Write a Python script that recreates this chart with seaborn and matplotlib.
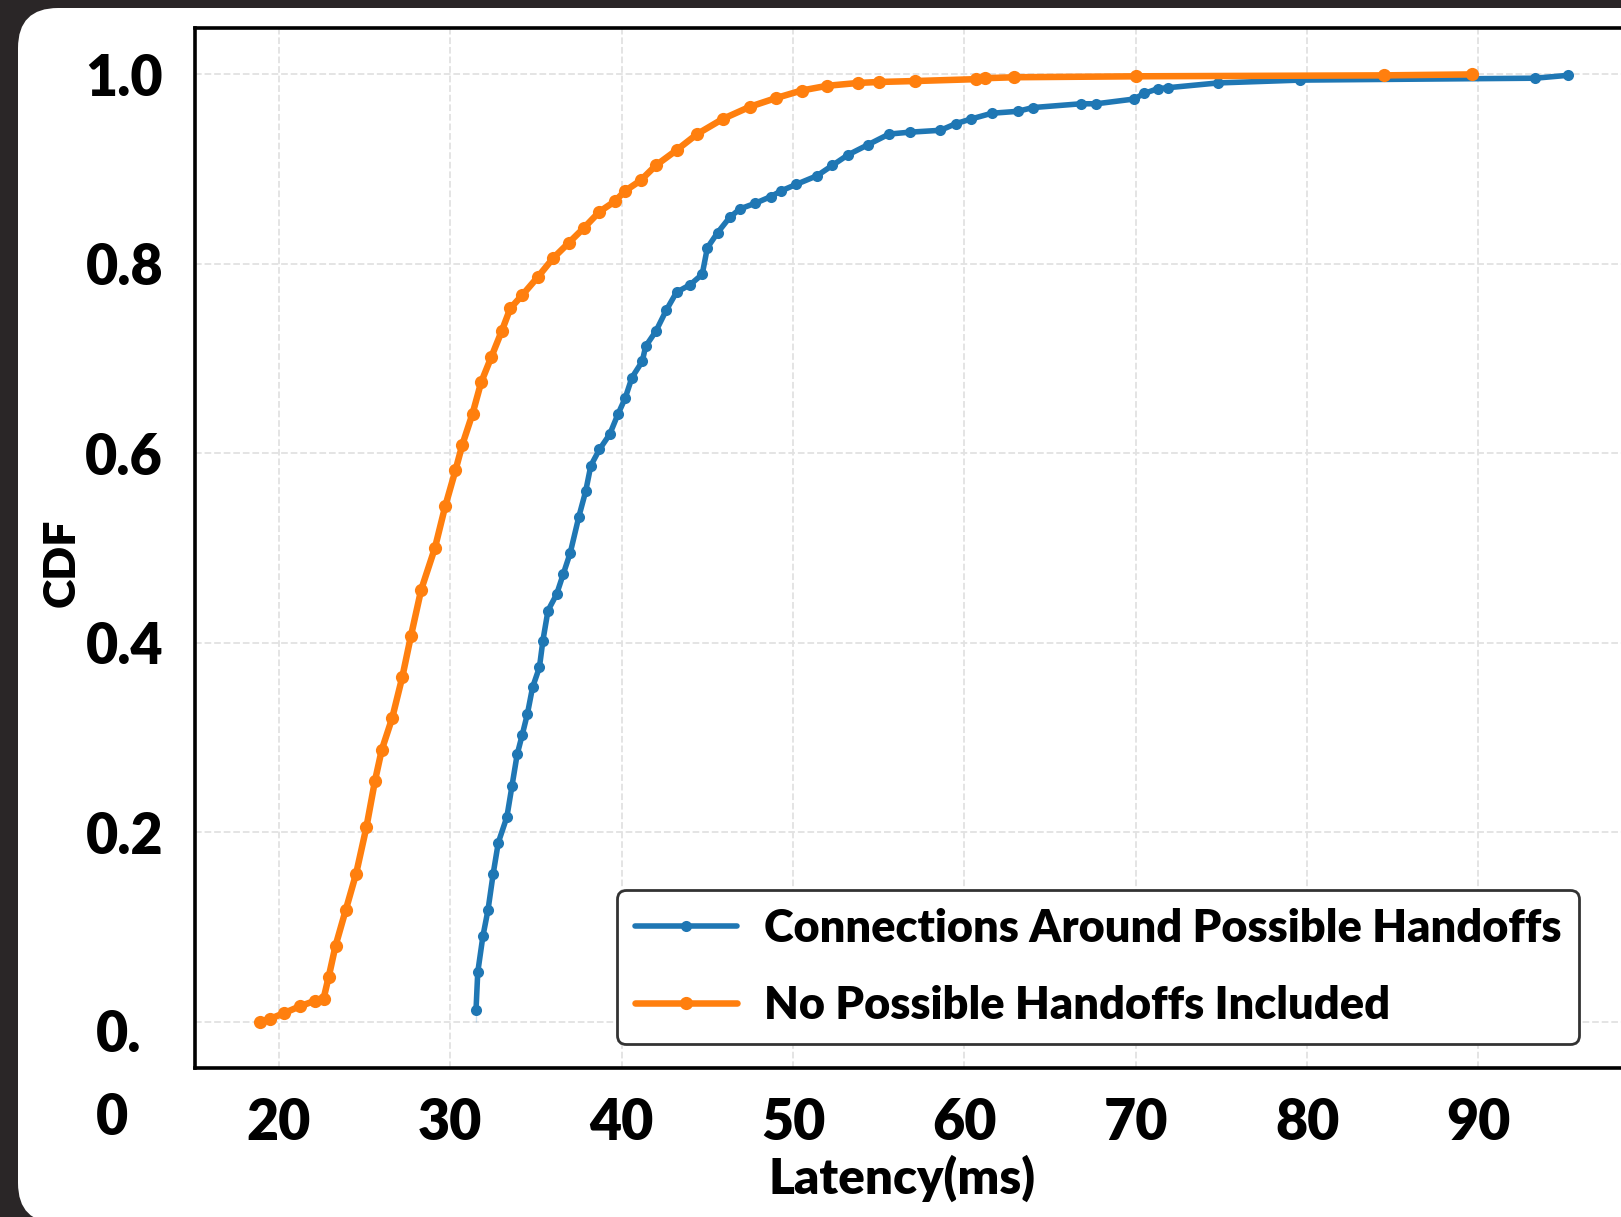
import numpy as np
import pandas as pd
import matplotlib
matplotlib.use("Agg")
import matplotlib.pyplot as plt
import matplotlib.patches as mpatches
from matplotlib.transforms import ScaledTranslation
import seaborn as sns

# latency (ms) and CDF values
handoff_ms = [31.5, 31.5, 31.6, 31.9, 32.2, 32.5, 32.8, 33.3, 33.6, 33.9, 34.2, 34.5,
              34.8, 35.2, 35.4, 35.7, 36.2, 36.6, 37.0, 37.5, 37.9, 38.2, 38.7, 39.3,
              39.8, 40.2, 40.6, 41.2, 41.4, 42.0, 42.6, 43.2, 44.0, 44.7, 45.0, 45.6,
              46.3, 46.9, 47.8, 48.7, 49.3, 50.2, 51.4, 52.3, 53.2, 54.4, 55.6, 56.8,
              58.6, 59.5, 60.4, 61.6, 63.1, 64.0, 66.8, 67.7, 69.9, 70.5, 71.3, 71.9,
              74.8, 79.6, 93.3, 95.2]
handoff_cdf = [0.0, 0.025, 0.052, 0.09, 0.118, 0.156, 0.189, 0.216, 0.249, 0.282, 0.303, 0.325,
               0.353, 0.374, 0.402, 0.434, 0.451, 0.473, 0.495, 0.533, 0.56, 0.587, 0.604, 0.62,
               0.642, 0.658, 0.68, 0.697, 0.713, 0.729, 0.751, 0.77, 0.778, 0.789, 0.817, 0.833,
               0.849, 0.858, 0.864, 0.871, 0.877, 0.884, 0.893, 0.904, 0.915, 0.926, 0.937, 0.939,
               0.941, 0.948, 0.953, 0.959, 0.961, 0.965, 0.969, 0.969, 0.974, 0.98, 0.985, 0.986,
               0.991, 0.994, 0.996, 0.999]

no_handoff_ms = [18.9, 19.5, 20.3, 21.2, 22.1, 22.6, 22.9, 23.3, 23.9, 24.5, 25.1, 25.6,
                 26.0, 26.6, 27.2, 27.7, 28.3, 29.1, 29.7, 30.3, 30.7, 31.3, 31.8, 32.4,
                 33.0, 33.5, 34.2, 35.1, 36.0, 36.9, 37.8, 38.7, 39.6, 40.2, 41.1, 42.0,
                 43.2, 44.4, 45.9, 47.5, 49.0, 50.5, 52.0, 53.8, 55.0, 57.1, 60.7, 61.2,
                 62.9, 70.0, 84.5, 89.6]
no_handoff_cdf = [0.0, 0.003, 0.009, 0.016, 0.022, 0.024, 0.047, 0.08, 0.118, 0.156, 0.205, 0.254,
                  0.287, 0.32, 0.364, 0.407, 0.456, 0.5, 0.544, 0.582, 0.609, 0.642, 0.675, 0.702,
                  0.729, 0.753, 0.767, 0.786, 0.806, 0.822, 0.838, 0.855, 0.866, 0.877, 0.888, 0.904,
                  0.92, 0.937, 0.953, 0.966, 0.975, 0.983, 0.988, 0.991, 0.992, 0.993, 0.995, 0.996,
                  0.997, 0.998, 0.999, 1.0]

series_names = ["Connections Around Possible Handoffs", "No Possible Handoffs Included"]
x_ticks = [20, 30, 40, 50, 60, 70, 80, 90]
y_ticks = [0.0, 0.2, 0.4, 0.6, 0.8, 1.0]
y_tick_labels = ["0.\n0", "0.2", "0.4", "0.6", "0.8", "1.0"]

sns.set_style("white")
plt.rcParams["font.family"] = ["Lato", "DejaVu Sans"]
plt.rcParams["font.weight"] = "heavy"
for k in ["text.color", "axes.labelcolor", "xtick.color", "ytick.color"]:
    plt.rcParams[k] = "black"

W, H = 1621, 1217
fig = plt.figure(figsize=(W / 100, H / 100), dpi=100, facecolor="#2a2627")

# white rounded card behind the plot
card = mpatches.FancyBboxPatch((18, -6), 1700, H - 8 + 6, boxstyle="round,pad=0,rounding_size=40",
                               transform=None, facecolor="white", edgecolor="none", zorder=0)
fig.add_artist(card)

ax = fig.add_axes([195 / W, 1 - 1068 / H, (1631 - 195) / W, (1068 - 28) / H])
ax.set_facecolor("white")

df_a = pd.DataFrame({"latency": handoff_ms, "cdf": handoff_cdf})
df_b = pd.DataFrame({"latency": no_handoff_ms, "cdf": no_handoff_cdf})
sns.lineplot(data=df_a, x="latency", y="cdf", ax=ax, color="#1f77b4", marker="o",
             markersize=8, markeredgewidth=0, linewidth=4.0, sort=False, label=series_names[0])
sns.lineplot(data=df_b, x="latency", y="cdf", ax=ax, color="#ff7f0e", marker="o",
             markersize=9.5, markeredgewidth=0, linewidth=4.7, sort=False, label=series_names[1])

ax.set_xlim(15.1, 98.9)
ax.set_ylim(-0.049, 1.049)
ax.set_xticks(x_ticks)
ax.set_yticks(y_ticks)
ax.set_yticklabels(y_tick_labels)
ax.grid(True, linestyle="--", color="#e2e2e2", linewidth=1.3)
ax.set_axisbelow(True)
for s in ax.spines.values():
    s.set_linewidth(2.6)
    s.set_color("black")
ax.tick_params(axis="both", which="major", direction="out", length=11, width=2.2,
               labelsize=40, colors="black")
ax.tick_params(axis="x", pad=10)
ax.tick_params(axis="y", pad=12)

ax.set_xlabel("Latency(ms)", fontsize=35.5, fontweight="heavy", labelpad=4)
ax.xaxis.label.set_x(0.492)
ax.set_ylabel("CDF", fontsize=32, fontweight="heavy")
ax.yaxis.set_label_coords(-0.079, 0.486)

# the zero label is split over two lines in the original
zero_lab = ax.get_yticklabels()[0]
zero_lab.set_multialignment("left")
zero_lab.set_linespacing(1.72)
zero_lab.set_transform(zero_lab.get_transform() + ScaledTranslation(-0.22, -0.35, fig.dpi_scale_trans))

leg = ax.legend(loc="lower left", bbox_to_anchor=(617 / W, 1 - 1044 / H), bbox_transform=fig.transFigure,
                borderaxespad=0, frameon=True, fancybox=True, edgecolor="#333333", fontsize=32.5,
                handlelength=2.25, handletextpad=0.6, labelspacing=0.8, borderpad=0.4)
leg.get_frame().set_linewidth(2.0)
leg.get_frame().set_alpha(1.0)

fig.savefig("out.png", dpi=100, facecolor=fig.get_facecolor())
